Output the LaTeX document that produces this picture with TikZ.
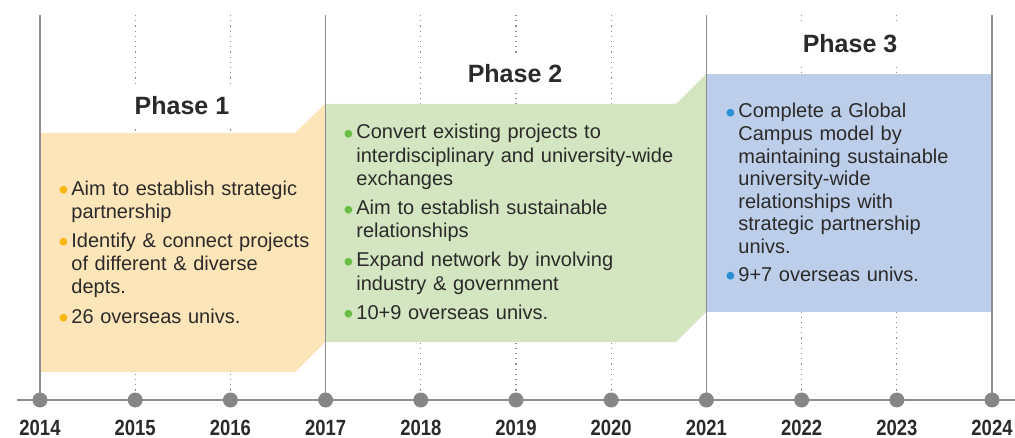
\documentclass[tikz,border=0pt]{standalone}
\usepackage{fontspec}
\setmainfont{Liberation Sans}
\usepackage{tikz}
\usepackage{xcolor}
\usetikzlibrary{calc, positioning}
\definecolor{p1fill}{HTML}{FDE5BA}
\definecolor{p2fill}{HTML}{D3E6C1}
\definecolor{p3fill}{HTML}{BCCEEA}
\definecolor{p1dot}{HTML}{FBB614}
\definecolor{p2dot}{HTML}{6ABD45}
\definecolor{p3dot}{HTML}{2B8FD6}
\definecolor{tlgray}{HTML}{8D8D90}
\definecolor{ink}{HTML}{2B2A29}
\newcommand{\pbul}[1]{\leavevmode\llap{\textcolor{#1}{\raisebox{-2.2pt}{\scalebox{1.4}{\textbullet}}}\hspace{1.5pt}}}

\begin{document}
\begin{tikzpicture}[
        x=0.5pt, y=-0.5pt,
        gridline/.style={draw=tlgray, line width=0.6pt, dotted},
        phaseline/.style={draw=tlgray, line width=0.75pt},
        axisline/.style={draw=tlgray, line width=1pt},
        yeardot/.style={circle, fill=tlgray!95!black, inner sep=0pt, minimum size=7.5pt},
        yearlbl/.style={anchor=base, inner sep=0pt, text=ink, font=\bfseries\fontsize{11}{12}\selectfont},
        phasettl/.style={anchor=base, fill=white, inner sep=5pt, text=ink, font=\bfseries\fontsize{12.5}{14}\selectfont},
        itemlist/.style={anchor=base west, inner sep=0pt, text width=200pt, align=left, text=ink, font=\fontsize{10}{11.6}\selectfont}
    ]
        \useasboundingbox (0,0) rectangle (1015,438);

        % year positions and dotted year lines
        \foreach \yr [count=\i from 0, evaluate=\i as \xx using 40+95.2*\i] in {2014,...,2024} {
            \coordinate (t\yr) at (\xx,15);
            \coordinate (a\yr) at (\xx,400);
            \draw[gridline] (t\yr) -- (a\yr);
        }

        % phase bands
        \fill[p1fill] (40,133) -- (295,133) -- (325,104) -- (325,342) -- (295,372) -- (40,372) -- cycle;
        \fill[p2fill] (325,104) -- (676,104) -- (706,74) -- (706,312) -- (676,342) -- (325,342) -- cycle;
        \fill[p3fill] (706,74) rectangle (992,312);

        \foreach \yr in {2014,2017,2021,2024}
            \draw[phaseline] (t\yr) -- (a\yr);

        \node[phasettl] (ph1) at (182,115) {Phase 1};
        \node[phasettl] (ph2) at (515,83) {Phase 2};
        \node[phasettl] (ph3) at (850,53) {Phase 3};

        % axis
        \coordinate (axL) at (17,400);
        \coordinate (axR) at (1015,400);
        \draw[axisline] (axL) -- (axR);
        \foreach \yr in {2014,...,2024} {
            \node[yeardot] (d\yr) at (a\yr) {};
            \node[yearlbl] (y\yr) at ($(a\yr)+(0,35)$) {\scalebox{0.84}[1]{\yr}};
        }

        \node[itemlist] (items1) at (71,195) {%
            \pbul{p1dot}Aim to establish strategic\\
            partnership\\[3pt]
            \pbul{p1dot}Identify \& connect projects\\
            of different \& diverse\\
            depts.\\[3pt]
            \pbul{p1dot}26 overseas univs.};
        \node[itemlist] (items2) at (356,139) {%
            \pbul{p2dot}Convert existing projects to\\
            interdisciplinary and university-wide\\
            exchanges\\[3pt]
            \pbul{p2dot}Aim to establish sustainable\\
            relationships\\[3pt]
            \pbul{p2dot}Expand network by involving\\
            industry \& government\\[3pt]
            \pbul{p2dot}10+9 overseas univs.};
        \node[itemlist, font=\fontsize{10}{11.3}\selectfont] (items3) at (738,118) {%
            \pbul{p3dot}Complete a Global\\
            Campus model by\\
            maintaining sustainable\\
            university-wide\\
            relationships with\\
            strategic partnership\\
            univs.\\[2.5pt]
            \pbul{p3dot}9+7 overseas univs.};
    \end{tikzpicture}
\end{document}
